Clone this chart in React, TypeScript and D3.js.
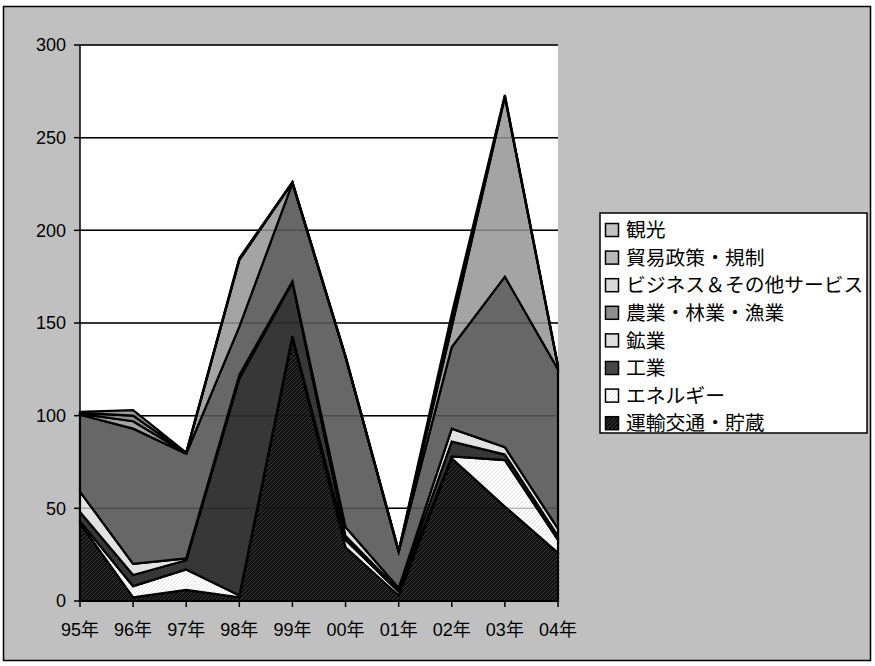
import React from 'react';
import * as d3 from 'd3';

// Fiscal years on the category axis
const categories = ['95年', '96年', '97年', '98年', '99年', '00年', '01年', '02年', '03年', '04年'];

// Series names, bottom of the stack first
const seriesNames = [
  '運輸交通・貯蔵',
  'エネルギー',
  '工業',
  '鉱業',
  '農業・林業・漁業',
  'ビジネス＆その他サービス',
  '貿易政策・規制',
  '観光',
];

// Values per series, one per year
const transport = [42, 2, 6, 2, 142, 29, 3, 77, 51, 26];
const energy = [1, 6, 11, 1, 1, 4, 2, 1, 25, 7];
const industry = [5, 6, 5, 117, 29, 2, 1, 8, 3, 2];
const mining = [11, 6, 1, 2, 0.5, 5, 1, 7, 4, 4];
const agriculture = [41.5, 73, 56.5, 26, 53, 91.5, 19.5, 44, 92, 86];
const business = [0.5, 4, 0.2, 36, 0.2, 0.2, 0.2, 11, 97, 1.5];
const trade = [0.5, 3, 0.2, 0.5, 0.2, 0.2, 0.2, 4, 0.5, 0.3];
const tourism = [0.5, 3, 0.2, 0.5, 0.2, 0.2, 0.2, 3, 0.5, 0.3];

const yTicks = [0, 50, 100, 150, 200, 250, 300];

const seriesValues = [transport, energy, industry, mining, agriculture, business, trade, tourism];

const areaFill = [
  'url(#hatchDark)',
  'url(#dotsLight)',
  '#373737',
  '#e2e2e2',
  '#676767',
  '#a4a4a4',
  '#8f8f8f',
  '#9c9c9c',
];
const legendFill = [
  'url(#hatchDark)',
  'url(#dotsLight)',
  '#474747',
  '#dfdfdf',
  '#8e8e8e',
  '#dadada',
  '#b9b9b9',
  '#c2c2c2',
];

const W = 875;
const H = 666;
const plot = { left: 80, right: 558, top: 45, bottom: 601 };
const numFont = '"Liberation Sans", Arial, "Noto Sans CJK JP", sans-serif';
const jpFont = '"Noto Sans CJK JP", "Liberation Sans", sans-serif';

export default function App() {
  const x = d3.scalePoint<string>().domain(categories).range([plot.left, plot.right]).padding(0);
  const y = d3.scaleLinear().domain([0, 300]).range([plot.bottom, plot.top]);

  const rows = categories.map((c, i) => {
    const r: Record<string, number | string> = { cat: c };
    seriesNames.forEach((n, k) => {
      r[n] = seriesValues[k][i];
    });
    return r;
  });

  const stacked = d3.stack<any>().keys(seriesNames)(rows as any);

  const area = d3
    .area<any>()
    .x((d) => x(d.data.cat) as number)
    .y0((d) => y(d[0]))
    .y1((d) => y(d[1]));

  const legendX = 600;
  const legendY = 213;
  const rowH = 27.6;
  const legendOrder = seriesNames.map((_, i) => i).reverse();

  return (
    <svg
      width={W}
      height={H}
      style={{ position: 'absolute', left: 0, top: 0, display: 'block' }}
    >
      <defs>
        <pattern id="hatchDark" width="4" height="4" patternUnits="userSpaceOnUse">
          <rect width="4" height="4" fill="#131313" />
          <path d="M0,4 L4,0 M-1,1 L1,-1 M3,5 L5,3" stroke="#363636" strokeWidth="1" />
        </pattern>
        <pattern id="dotsLight" width="4" height="4" patternUnits="userSpaceOnUse">
          <rect width="4" height="4" fill="#ffffff" />
          <path d="M0,4 L4,0 M-1,1 L1,-1 M3,5 L5,3" stroke="#e4e4e4" strokeWidth="1" />
        </pattern>
        <clipPath id="plotClip">
          <rect x={plot.left - 2} y={plot.top - 2} width={plot.right - plot.left + 4} height={plot.bottom - plot.top + 4} />
        </clipPath>
      </defs>

      {/* chart background and frame */}
      <rect x={3.5} y={6.5} width={867} height={654} fill="#c0c0c0" stroke="#000" strokeWidth={1.5} />

      {/* plot area */}
      <rect x={plot.left} y={plot.top} width={plot.right - plot.left} height={plot.bottom - plot.top} fill="#fff" />

      {/* gridlines behind the areas */}
      {yTicks.filter((t) => t > 0).map((t) => (
        <line key={'g' + t} x1={plot.left} x2={plot.right} y1={y(t)} y2={y(t)} stroke="#000" strokeWidth={1.5} />
      ))}

      {/* stacked areas */}
      <g clipPath="url(#plotClip)">
        {stacked.map((s, i) => (
          <path
            key={seriesNames[i]}
            d={area(s as any) as string}
            fill={areaFill[i]}
            stroke="#000"
            strokeWidth={2.2}
            strokeLinejoin="miter"
          />
        ))}
      </g>

      {/* gridlines showing faintly through the areas */}
      {yTicks.filter((t) => t > 0).map((t) => (
        <line key={'go' + t} x1={plot.left} x2={plot.right} y1={y(t)} y2={y(t)} stroke="#000" strokeOpacity={0.25} strokeWidth={1.5} />
      ))}

      {/* axes */}
      <line x1={plot.left} x2={plot.left} y1={plot.top} y2={plot.bottom} stroke="#000" strokeWidth={1.5} />
      <line x1={plot.left} x2={plot.right} y1={plot.bottom} y2={plot.bottom} stroke="#000" strokeWidth={1.5} />

      {yTicks.map((t) => (
        <g key={'yt' + t}>
          <line x1={plot.left - 6} x2={plot.left} y1={y(t)} y2={y(t)} stroke="#000" strokeWidth={1.5} />
          <text
            x={plot.left - 14}
            y={y(t)}
            dy="0.36em"
            textAnchor="end"
            fontFamily={numFont}
            fontSize={18}
            fill="#000"
          >
            {t}
          </text>
        </g>
      ))}

      {categories.map((c) => (
        <g key={'xt' + c}>
          <line x1={x(c)} x2={x(c)} y1={plot.bottom} y2={plot.bottom + 6} stroke="#000" strokeWidth={1.5} />
          <text
            x={x(c)}
            y={plot.bottom + 35}
            textAnchor="middle"
            fontFamily={numFont}
            fontSize={18}
            fill="#000"
          >
            {c}
          </text>
        </g>
      ))}

      {/* legend */}
      <rect x={legendX} y={legendY} width={267} height={220} fill="#fff" stroke="#000" strokeWidth={1.5} />
      {legendOrder.map((k, j) => {
        const cy = legendY + 17 + j * rowH;
        return (
          <g key={'lg' + k}>
            <rect x={605.5} y={cy - 6.5} width={13} height={13} fill={legendFill[k]} stroke="#000" strokeWidth={1.5} />
            <text x={626} y={cy} dy="0.36em" fontFamily={jpFont} fontSize={19.8} fill="#000">
              {seriesNames[k]}
            </text>
          </g>
        );
      })}
    </svg>
  );
}
